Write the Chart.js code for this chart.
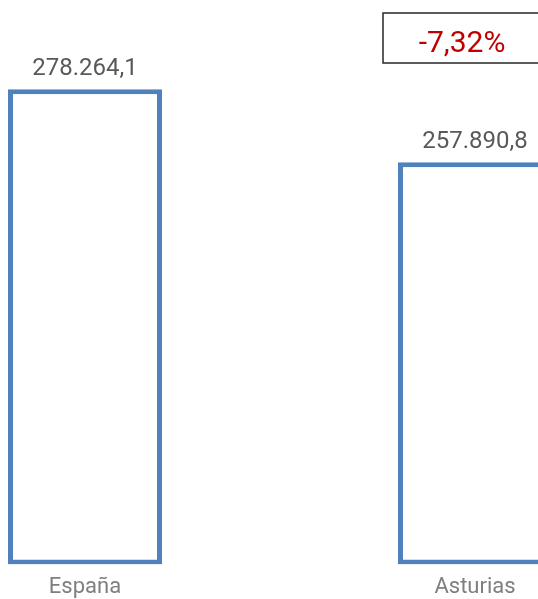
<!DOCTYPE html>
<html>
<head>
<meta charset="utf-8">
<script src="https://cdn.jsdelivr.net/npm/chart.js@4.4.1/dist/chart.umd.min.js"></script>
<style>
  html, body { margin: 0; padding: 0; background: #ffffff; overflow: hidden; width: 538px; height: 599px; }
  #wrap { position: absolute; left: -110px; top: 0; width: 780px; height: 614px; }
</style>
</head>
<body>
<div id="wrap"><canvas id="c"></canvas></div>
<script>
const categories = ['España', 'Asturias'];
const values = [278264.1, 257890.8];
const yMin = 146000;
const yMax = 300000;

function fmtEs(v, dec) {
  const fixed = Math.abs(v).toFixed(dec);
  let [ip, dp] = fixed.split('.');
  ip = ip.replace(/\B(?=(\d{3})+(?!\d))/g, '.');
  return (v < 0 ? '-' : '') + ip + (dp ? ',' + dp : '');
}

const changePct = (values[1] / values[0] - 1) * 100;

const overlay = {
  id: 'overlay',
  afterDatasetsDraw(chart) {
    const ctx = chart.ctx;
    const meta = chart.getDatasetMeta(0);
    ctx.save();
    ctx.font = '24px Roboto';
    ctx.fillStyle = '#595959';
    ctx.textAlign = 'center';
    ctx.textBaseline = 'alphabetic';
    meta.data.forEach((bar, i) => {
      ctx.fillText(fmtEs(values[i], 1), bar.x, bar.y - 14);
    });
    // change box anchored to second bar
    const b = meta.data[1];
    const left = b.x - 92, top = 13, bottom = 63;
    ctx.strokeStyle = '#262626';
    ctx.lineWidth = 1.5;
    ctx.fillStyle = '#ffffff';
    ctx.beginPath();
    ctx.rect(left, top, 300, bottom - top);
    ctx.fill();
    ctx.stroke();
    ctx.font = '30px Roboto';
    ctx.fillStyle = '#C00000';
    ctx.fillText(fmtEs(changePct, 2) + '%', b.x - 13, 52);
    ctx.restore();
  }
};

new Chart(document.getElementById('c'), {
  type: 'bar',
  data: {
    labels: categories,
    datasets: [{
      data: values,
      base: yMin,
      backgroundColor: '#ffffff',
      borderColor: '#4F81BD',
      borderWidth: 5,
      borderSkipped: false,
      barPercentage: 0.395,
      categoryPercentage: 1
    }]
  },
  options: {
    responsive: true,
    maintainAspectRatio: false,
    animation: false,
    layout: { padding: { top: 11, bottom: 3, left: 0, right: 0 } },
    plugins: { legend: { display: false }, tooltip: { enabled: false } },
    scales: {
      x: {
        grid: { display: false, drawTicks: false },
        border: { display: false },
        ticks: { color: '#7F7F7F', font: { family: 'Roboto', size: 22 }, padding: 10 }
      },
      y: {
        display: false,
        min: yMin,
        max: yMax
      }
    }
  },
  plugins: [overlay]
});
</script>
</body>
</html>
